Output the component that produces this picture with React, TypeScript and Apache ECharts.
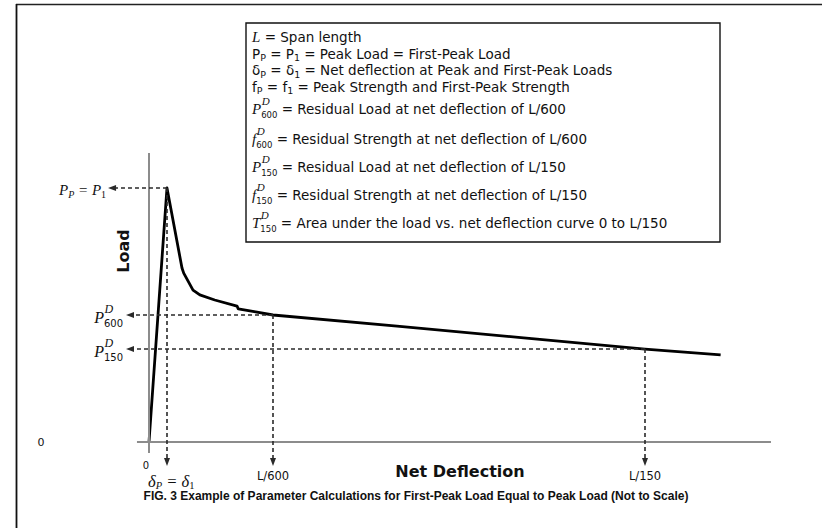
import React, { useEffect, useRef } from "react";
import * as echarts from "echarts";

// ---------- data ----------
// deflection in units of L/600 (so L/600 = 1, L/150 = 4); load in % of peak load
const deflection = [0, 0.145, 0.266, 0.28, 0.355, 0.41, 0.53, 0.71, 0.72, 0.86, 1.0, 2.0, 3.0, 4.0, 4.61];
const load = [0, 100, 68.5, 66.5, 59.8, 57.9, 55.9, 53.5, 52.4, 51.2, 50.0, 45.6, 41.1, 36.6, 34.3];

const peakDeflection = 0.145;
const peakLoad = 100;
const residualDeflections = [1, 4];
const residualLoads = [50.0, 36.6];
const xTickLabels = ["L/600", "L/150"];
const residualSubs = ["600", "150"];

const xAxisExtent = [-0.097, 5.016];
const yAxisExtent = [-4.33, 113.8];
const peakArrowTipX = -0.298;
const residualArrowTipX = -0.153;
const deflArrowTipY = -7.87;

const captionText =
  "FIG. 3 Example of Parameter Calculations for First-Peak Load Equal to Peak Load (Not to Scale)";

// ---------- fonts ----------
const SANS = '"DejaVu Sans", Verdana, sans-serif';
const SERIF = '"Liberation Serif", "Times New Roman", serif';
const F_N = `13.5px ${SANS}`;
const F_SUB = `9.5px ${SANS}`;
const F_MI = `italic 15px ${SERIF}`;
const F_SUPI = `italic 11px ${SERIF}`;
const F_DIG = `8.5px ${SANS}`;

type Seg =
  | { k: "n"; t: string; font: string; dy: number }
  | { k: "st"; sup: string; sub: string; supFont?: string; subFont?: string };

const n = (t: string): Seg => ({ k: "n", t, font: F_N, dy: 0 });
const s = (t: string): Seg => ({ k: "n", t, font: F_SUB, dy: 4 });
const m = (t: string, font = F_MI): Seg => ({ k: "n", t, font, dy: 0 });
const st = (sup: string, sub: string, supFont = F_SUPI, subFont = F_DIG): Seg => ({ k: "st", sup, sub, supFont, subFont });

const legendLines: Seg[][] = [
  [m("L"), n(" = Span length")],
  [n("P"), s("P"), n(" = P"), s("1"), n(" = Peak Load = First-Peak Load")],
  [n("δ"), s("P"), n(" = δ"), s("1"), n(" = Net deflection at Peak and First-Peak Loads")],
  [n("f"), s("P"), n(" = f"), s("1"), n(" = Peak Strength and First-Peak Strength")],
  [m("P"), st("D", "600"), n(" = Residual Load at net deflection of L/600")],
  [m("f"), st("D", "600"), n(" = Residual Strength at net deflection of L/600")],
  [m("P"), st("D", "150"), n(" = Residual Load at net deflection of L/150")],
  [m("f"), st("D", "150"), n(" = Residual Strength at net deflection of L/150")],
  [m("T"), st("D", "150"), n(" = Area under the load vs. net deflection curve 0 to L/150")],
];
const legendLineY = [37, 53.5, 70, 86.5, 109, 139, 167, 195, 223];

let measureCtx: CanvasRenderingContext2D | null = null;
function textWidth(text: string, font: string): number {
  if (!measureCtx) measureCtx = document.createElement("canvas").getContext("2d");
  measureCtx!.font = font;
  return measureCtx!.measureText(text).width;
}

function txt(x: number, y: number, text: string, font: string, align = "left", extra: any = {}) {
  return {
    type: "text",
    x,
    y,
    silent: true,
    ...extra,
    style: {
      text,
      font,
      fill: "#111",
      textAlign: align,
      textVerticalAlign: "middle",
    },
  };
}

function stackWidth(g: any): number {
  return Math.max(textWidth(g.sup, g.supFont || F_SUPI), textWidth(g.sub, g.subFont || F_DIG));
}

function segWidth(segs: Seg[]): number {
  let w = 0;
  for (const g of segs) {
    if (g.k === "n") w += textWidth(g.t, g.font);
    else w += stackWidth(g);
  }
  return w;
}

function compose(x0: number, y: number, segs: Seg[]): any[] {
  const out: any[] = [];
  let x = x0;
  for (const g of segs) {
    if (g.k === "n") {
      out.push(txt(x, y + g.dy, g.t, g.font));
      x += textWidth(g.t, g.font);
    } else {
      out.push(txt(x + 0.5, y - 8, g.sup, g.supFont || F_SUPI));
      out.push(txt(x, y + 6, g.sub, g.subFont || F_DIG));
      x += stackWidth(g);
    }
  }
  return out;
}

const dashStyle = { color: "#2a2a2a", width: 1.6, type: [4, 3] as any };
const axisStyle = { color: "#8c8c8c", width: 2, type: "solid" as any };

function buildOption(): any {
  const guides: any[] = [
    [
      { coord: [xAxisExtent[0], 0], symbol: "none", lineStyle: axisStyle },
      { coord: [xAxisExtent[1], 0], symbol: "none" },
    ],
    [
      { coord: [0, yAxisExtent[0]], symbol: "none", lineStyle: axisStyle },
      { coord: [0, yAxisExtent[1]], symbol: "none" },
    ],
    [
      { coord: [peakDeflection, peakLoad], symbol: "none", lineStyle: dashStyle },
      { coord: [peakArrowTipX, peakLoad], symbol: "triangle" },
    ],
    [
      { coord: [peakDeflection, peakLoad], symbol: "none", lineStyle: dashStyle },
      { coord: [peakDeflection, deflArrowTipY], symbol: "triangle" },
    ],
  ];
  residualDeflections.forEach((d, i) => {
    guides.push([
      { coord: [d, residualLoads[i]], symbol: "none", lineStyle: dashStyle },
      { coord: [residualArrowTipX, residualLoads[i]], symbol: "triangle" },
    ]);
    guides.push([
      { coord: [d, residualLoads[i]], symbol: "none", lineStyle: dashStyle },
      { coord: [d, deflArrowTipY], symbol: "triangle" },
    ]);
  });

  return {
    animation: false,
    backgroundColor: "#ffffff",
    grid: { left: 99.4, right: 40.6, top: 149.9, bottom: 60.6 },
    xAxis: { type: "value", min: -0.4, max: 5.1, show: false },
    yAxis: { type: "value", min: -10, max: 115, show: false },
    series: [
      {
        type: "line",
        data: deflection.map((d, i) => [d, load[i]]),
        symbol: "none",
        clip: false,
        z: 3,
        lineStyle: { color: "#000", width: 2.8, join: "round" },
        markLine: {
          silent: true,
          animation: false,
          symbol: ["none", "none"],
          symbolSize: [6, 8],
          label: { show: false },
          emphasis: { disabled: true },
          itemStyle: { color: "#2a2a2a" },
          precision: 4,
          data: guides,
        },
      },
    ],
  };
}

export default function App() {
  const ref = useRef<HTMLDivElement>(null);
  useEffect(() => {
    const chart = echarts.init(ref.current!, undefined, { renderer: "svg", width: 822, height: 528 });
    chart.setOption(buildOption());
    const px = (x: number, y: number) => chart.convertToPixel({ gridIndex: 0 }, [x, y]) as number[];

    const els: any[] = [];
    // outer frame (top and left edges)
    els.push({ type: "line", silent: true, shape: { x1: 16, y1: 4.5, x2: 822, y2: 4.5 }, style: { stroke: "#222", lineWidth: 1.6 } });
    els.push({ type: "line", silent: true, shape: { x1: 16.5, y1: 4, x2: 16.5, y2: 528 }, style: { stroke: "#111", lineWidth: 1.8 } });

    // legend box
    els.push({ type: "rect", silent: true, shape: { x: 246, y: 23, width: 474, height: 219 }, style: { fill: "#fff", stroke: "#111", lineWidth: 1.4 } });
    legendLines.forEach((segs, i) => {
      els.push(...compose(252, legendLineY[i], segs));
    });

    const origin = px(0, 0);
    // y "0"
    els.push(txt(41, origin[1], "0", `11px ${SANS}`, "center"));
    // x "0"
    els.push(txt(origin[0] - 3, origin[1] + 23, "0", `10px ${SANS}`, "center"));

    // δP = δ1
    const F_MB = `italic 16.5px ${SERIF}`;
    const F_MS = `italic 10.5px ${SERIF}`;
    const deltaSegs: Seg[] = [
      { k: "n", t: "δ", font: F_MB, dy: 0 },
      { k: "n", t: "P", font: F_MS, dy: 4 },
      { k: "n", t: " = δ", font: F_MB, dy: 0 },
      { k: "n", t: "1", font: `10.5px ${SERIF}`, dy: 4 },
    ];
    els.push(...compose(origin[0] - 1, origin[1] + 39, deltaSegs));

    // Pp = P1
    const peakPx = px(peakArrowTipX, peakLoad);
    const ppSegs: Seg[] = [
      { k: "n", t: "P", font: F_MI, dy: 0 },
      { k: "n", t: "P", font: `italic 10px ${SERIF}`, dy: 4 },
      { k: "n", t: " = P", font: F_MI, dy: 0 },
      { k: "n", t: "1", font: `10px ${SERIF}`, dy: 4 },
    ];
    els.push(...compose(peakPx[0] - 6 - segWidth(ppSegs), peakPx[1] + 2, ppSegs));

    // residual labels
    residualDeflections.forEach((d, i) => {
      const left = px(residualArrowTipX, residualLoads[i]);
      const segs: Seg[] = [m("P", `italic 16px ${SERIF}`), st("D", residualSubs[i], `italic 12px ${SERIF}`, `10px ${SANS}`)];
      els.push(...compose(left[0] - 7 - segWidth(segs), left[1] + 2, segs));
      const bottom = px(d, deflArrowTipY);
      els.push(txt(bottom[0], bottom[1] + 14, xTickLabels[i], `11.5px ${SANS}`, "center"));
    });

    // axis names
    els.push(txt(123, 251, "Load", `bold 16px ${SANS}`, "center", { rotation: Math.PI / 2 }));
    els.push(txt(460, origin[1] + 29, "Net Deflection", `bold 16px ${SANS}`, "center"));

    // caption
    els.push(txt(416, 496, captionText, `bold 12px "Liberation Sans", Arial, sans-serif`, "center"));

    chart.setOption({ graphic: els });
    return () => chart.dispose();
  }, []);
  return (
    <div
      ref={ref}
      style={{ position: "fixed", left: 0, top: 0, width: 822, height: 528, background: "#fff" }}
    />
  );
}
